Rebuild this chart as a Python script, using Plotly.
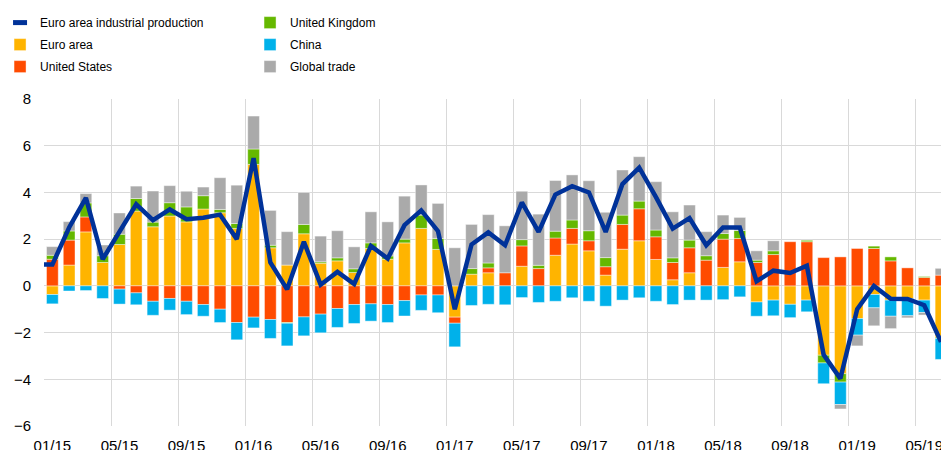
import plotly.graph_objects as go
import pandas as pd

# Months (first entry 12/14 only carries the line's starting point)
months = list(pd.date_range("2014-12-01", periods=55, freq="MS").strftime("%m/%y"))

euro_area = [None, -0.37, 0.89, 2.31, 1.00, 1.77, 3.20, 2.53, 2.99, 2.74, 3.29, 3.13, 2.46, 5.20,
             1.63, 0.89, 2.23, 0.97, 1.07, 0.57, 1.60, 1.14, 1.84, 2.46, 1.56, -1.34, 0.50, 0.56,
             None, 0.84, None, 1.31, 1.79, 1.50, 0.46, 1.57, 1.93, 1.13, 0.26, 0.56, None, 0.79,
             1.03, -0.69, -0.61, -0.79, -0.61, -2.97, -3.76, -1.40, -0.37, -0.61, -0.54, -0.61, -2.20]
united_states = [None, 1.14, 1.07, 0.64, None, -0.14, -0.30, -0.66, -0.54, -0.66, -0.80, -1.00, -1.57,
                 -1.34, -1.44, -1.57, -1.33, -1.21, -0.97, -0.80, -0.77, -0.80, -0.63, -0.39, -0.39,
                 -0.26, None, 0.21, 0.56, 0.87, 0.74, 0.74, 0.67, 0.43, 0.36, 1.06, 1.37, 0.97, 0.74,
                 1.07, 1.10, 1.21, 1.00, 1.00, 1.34, 1.89, 1.89, 1.21, 1.24, 1.60, 1.60, 1.07, 0.77,
                 0.36, 0.46]
united_kingdom = [None, 0.17, 0.39, 0.60, 0.29, 0.44, 0.54, 0.20, 0.57, 0.64, 0.57, 0.14, 0.21, 0.66,
                  0.11, -0.03, 0.40, 0.06, 0.13, 0.16, 0.24, 0.14, 0.16, 0.57, 0.47, None, 0.24, 0.21,
                  None, 0.27, 0.14, 0.29, 0.36, 0.43, 0.39, 0.40, 0.33, 0.29, 0.20, 0.33, 0.19, 0.24,
                  0.34, 0.10, 0.16, None, 0.06, -0.33, -0.36, None, 0.10, 0.17, None, 0.04, -0.05]
china = [None, -0.40, -0.22, -0.20, -0.54, -0.64, -0.51, -0.60, -0.50, -0.57, -0.50, -0.57, -0.74,
         -0.46, -0.81, -0.97, -0.81, -0.80, -0.81, -0.81, -0.74, -0.77, -0.66, -0.66, -0.76, -1.01,
         -0.84, -0.79, -0.81, -0.50, -0.71, -0.66, -0.51, -0.66, -0.87, -0.61, -0.51, -0.66, -0.80,
         -0.61, -0.61, -0.59, -0.47, -0.61, -0.67, -0.57, -0.50, -0.89, -0.96, -0.71, -0.57, -0.69,
         -0.74, -0.53, -0.90]
global_trade = [None, 0.37, 0.40, 0.40, 0.46, 0.91, 0.53, 1.33, 0.73, 0.67, 0.37, 1.36, 1.64, 1.41,
                1.49, 1.43, 1.37, 1.10, 1.16, 0.94, 1.33, 1.46, 1.84, 1.29, 1.50, 1.63, 1.89, 2.07,
                2.01, 2.07, 2.19, 2.17, 1.93, 2.14, 1.94, 1.93, 1.90, 2.07, 1.97, 1.50, 1.03, 0.79,
                0.56, 0.40, 0.43, None, None, None, -0.19, -0.46, -0.77, -0.53, -0.09, -0.11, 0.29]
industrial_production = [0.91, 0.91, 2.50, 3.77, 1.14, 2.30, 3.49, 2.81, 3.27, 2.85, 2.92, 3.05, 2.00,
                         5.47, 1.00, -0.15, 1.89, 0.05, 0.60, 0.08, 1.71, 1.17, 2.60, 3.23, 2.34, -1.00,
                         1.77, 2.29, 1.74, 3.57, 2.31, 3.91, 4.27, 4.00, 2.31, 4.36, 5.06, 3.80, 2.45,
                         2.90, 1.74, 2.50, 2.50, 0.20, 0.65, 0.55, 0.86, -2.95, -3.97, -1.00, 0.00,
                         -0.55, -0.56, -0.83, -2.40]

tick_labels = months[1::4]  # 01/15, 05/15, ... 05/19
y_ticks = [-6, -4, -2, 0, 2, 4, 6, 8]

x = list(range(len(months)))
tick_pos = [x[months.index(t)] for t in tick_labels]
grid_pos = [p - 0.5 for p in tick_pos]

DARK_BLUE = "#003299"
series = [
    ("Euro area", euro_area, "#FFB400", "legend"),
    ("United States", united_states, "#FF4B00", "legend"),
    ("United Kingdom", united_kingdom, "#65B800", "legend2"),
    ("China", china, "#00B1EA", "legend2"),
    ("Global trade", global_trade, "#AAAAAA", "legend2"),
]

fig = go.Figure()
# legend entry for the line (short thick dash)
fig.add_trace(go.Scatter(x=[None], y=[None], mode="markers", name="Euro area industrial production",
                         marker=dict(symbol="line-ew", size=10, color=DARK_BLUE,
                                     line=dict(width=5, color=DARK_BLUE)),
                         legend="legend", legendgroup="ip", hoverinfo="skip"))
for name, vals, color, lg in series:
    fig.add_trace(go.Bar(x=x, y=vals, name=name, marker=dict(color=color,
                         line=dict(width=0.6, color="rgba(255,255,255,0.7)")),
                         legend=lg, legendgroup=name, width=0.7))
fig.add_trace(go.Scatter(x=x, y=industrial_production, mode="lines", name="Euro area industrial production",
                         line=dict(color=DARK_BLUE, width=4.5), showlegend=False))

legend_font = dict(family="Liberation Sans, Arial", size=12, color="#000000")
fig.update_layout(
    width=941, height=450,
    margin=dict(l=44, r=0, t=99, b=24, autoexpand=False),
    plot_bgcolor="white", paper_bgcolor="white",
    barmode="relative",
    font=dict(family="Liberation Sans, Arial", size=15, color="#000000"),
    legend=dict(x=-0.049, y=1.278, xanchor="left", yanchor="top", orientation="v",
                font=legend_font, bgcolor="rgba(0,0,0,0)", tracegroupgap=3, itemwidth=30),
    legend2=dict(x=0.2297, y=1.278, xanchor="left", yanchor="top", orientation="v",
                 font=legend_font, bgcolor="rgba(0,0,0,0)", tracegroupgap=3, itemwidth=30),
    xaxis=dict(range=[0.5, 54.0], tickmode="array", tickvals=tick_pos, ticktext=tick_labels,
               showgrid=False, zeroline=False, showline=False, ticks="", ticklabelstandoff=9,
               ticklabeloverflow="allow", tickfont=dict(size=15), automargin=False,
               minor=dict(tickmode="array", tickvals=grid_pos, showgrid=True,
                          gridcolor="#D9D9D9", gridwidth=1, ticks="")),
    yaxis=dict(range=[-6, 8], tickmode="array", tickvals=y_ticks, showgrid=True,
               gridcolor="#D9D9D9", gridwidth=1, zeroline=True, zerolinecolor="#D9D9D9",
               zerolinewidth=1, showline=False, ticks="", ticklabelstandoff=12,
               tickfont=dict(size=15), automargin=False),
)

fig.write_html("out.html", config={"displayModeBar": False},
               post_script="document.body.style.margin='0';document.body.style.overflow='hidden';")
